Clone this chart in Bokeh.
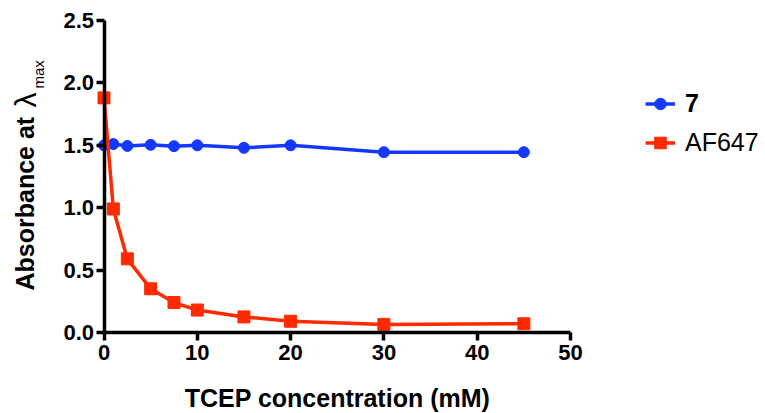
from bokeh.plotting import figure
from bokeh.models import (Range1d, FixedTicker, PrintfTickFormatter, Legend, LegendItem,
                          Label, ColumnDataSource)
from bokeh.embed import file_html
from bokeh.resources import INLINE
import math

# ---- data ----
conc = [0, 1, 2.5, 5, 7.5, 10, 15, 20, 30, 45]
abs_7 = [1.50, 1.51, 1.495, 1.504, 1.493, 1.50, 1.48, 1.50, 1.445, 1.445]
abs_af647 = [1.88, 0.99, 0.59, 0.35, 0.24, 0.18, 0.125, 0.09, 0.065, 0.07]
x_ticks = [0, 10, 20, 30, 40, 50]
y_ticks = [0.0, 0.5, 1.0, 1.5, 2.0, 2.5]
series_names = ["7", "AF647"]

BLUE = "#1438ff"
RED = "#ff2a00"
FONT = "Liberation Sans"

W, H = 765, 413
# plot area: x 0..50 -> px 103.5..570 ; y 0..2.5 -> px 332..20
XPX = 466.5 / 50
YPX = 312 / 2.5
x_rng = Range1d(-103.5 / XPX, (W - 103.5) / XPX)
y_rng = Range1d(-(H - 332) / YPX, 2.5 + 20 / YPX)

p = figure(frame_width=W, frame_height=H,
           min_border_left=0, min_border_right=0, min_border_top=0, min_border_bottom=0,
           x_range=x_rng, y_range=y_rng,
           output_backend="svg", toolbar_location=None)
p.outline_line_color = None
p.xgrid.visible = False
p.ygrid.visible = False
p.background_fill_color = "white"
p.border_fill_color = "white"

src = ColumnDataSource(dict(x=conc, b=abs_7, r=abs_af647))

l1 = p.line("x", "b", source=src, line_color=BLUE, line_width=3.5)
s1 = p.scatter("x", "b", source=src, marker="circle", size=11, fill_color=BLUE, line_color=BLUE)
l2 = p.line("x", "r", source=src, line_color=RED, line_width=3.5)
s2 = p.scatter("x", "r", source=src, marker="square", size=12, fill_color=RED, line_color=RED)

for ax in (p.xaxis[0], p.yaxis[0]):
    ax.axis_line_width = 3.5
    ax.axis_line_color = "black"
    ax.major_tick_line_width = 3.5
    ax.major_tick_line_color = "black"
    ax.major_tick_out = 8
    ax.major_tick_in = 0
    ax.minor_tick_line_color = None
    ax.major_label_text_font = FONT
    ax.major_label_text_font_style = "bold"
    ax.major_label_text_font_size = "22px"
    ax.major_label_text_color = "black"

xa = p.xaxis[0]
xa.ticker = FixedTicker(ticks=x_ticks)
xa.bounds = (0, 50)
xa.fixed_location = 0
xa.major_label_standoff = 4

ya = p.yaxis[0]
ya.ticker = FixedTicker(ticks=y_ticks)
ya.formatter = PrintfTickFormatter(format="%.1f")
ya.bounds = (0, 2.5)
ya.fixed_location = 0
ya.major_label_standoff = 2

# x-axis title
p.add_layout(Label(x=337, y=16, x_units="screen", y_units="screen",
                   text="TCEP concentration (mM)", text_align="center",
                   text_baseline="middle", text_font=FONT, text_font_style="bold",
                   text_font_size="25px", text_color="black"))

# y-axis title with subscript
p.add_layout(Label(x=24, y=123, x_units="screen", y_units="screen", text="Absorbance at ",
                   angle=math.pi / 2, text_align="left", text_baseline="middle",
                   text_font=FONT, text_font_style="bold", text_font_size="25px",
                   text_color="black"))
p.add_layout(Label(x=25, y=306, x_units="screen", y_units="screen", text="λ",
                   angle=math.pi / 2, text_align="left", text_baseline="middle",
                   text_font=FONT, text_font_size="30px", text_color="black"))
p.add_layout(Label(x=38, y=325, x_units="screen", y_units="screen", text="max",
                   angle=math.pi / 2, text_align="left", text_baseline="middle",
                   text_font=FONT, text_font_size="15px", text_color="black"))

def make_legend(item, loc, style):
    lg = Legend(items=[item], location=loc, padding=0, margin=0, spacing=0,
                border_line_color=None, background_fill_alpha=0,
                glyph_width=30, glyph_height=29, label_height=29, label_standoff=10,
                label_text_font=FONT, label_text_font_size="25px",
                label_text_font_style=style, label_text_color="black")
    p.add_layout(lg)

make_legend(LegendItem(label=series_names[0], renderers=[l1, s1]), (645, 295), "bold")
make_legend(LegendItem(label=series_names[1], renderers=[l2, s2]), (645, 256), "normal")

open("out.html", "w").write(file_html(p, INLINE))
